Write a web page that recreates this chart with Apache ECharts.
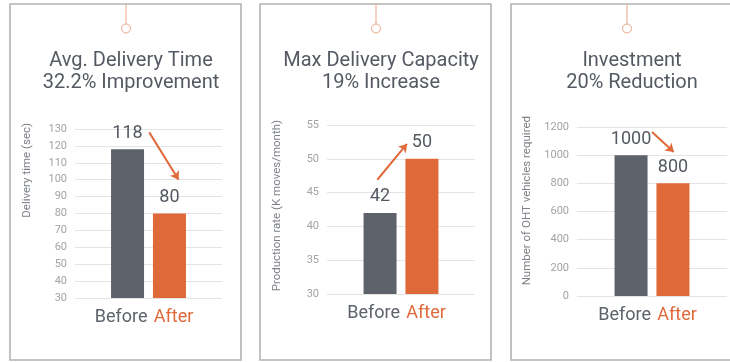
<!DOCTYPE html>
<html>
<head>
<meta charset="utf-8">
<script src="https://cdn.jsdelivr.net/npm/echarts@6/dist/echarts.min.js"></script>
<style>
  html, body { margin: 0; padding: 0; background: #fff; }
  #chart { width: 730px; height: 362px; }
</style>
</head>
<body>
<div id="chart"></div>
<script>
// Three before/after comparison panels
const panelTitles = [
  'Avg. Delivery Time\n32.2% Improvement',
  'Max Delivery Capacity\n19% Increase',
  'Investment\n20% Reduction'
];
const axisNames = ['Delivery time (sec)', 'Production rate (K moves/month)', 'Number of OHT vehicles required'];
const categories = ['Before', 'After'];
const beforeValues = [118, 42, 1000];
const afterValues = [80, 50, 800];
const yMin = [30, 30, 0];
const yMax = [130, 55, 1200];
const yStep = [10, 5, 200];
// Trend arrows: [x, y] pairs, x on a -1..1 helper scale across each plot, y in axis units
const arrowStarts = [[0.01, 128], [-0.32, 46.9], [0.0, 1165]];
const arrowEnds = [[0.41, 100], [0.08, 52.2], [0.29, 1023]];

const GRAY = '#5d626b';
const ORANGE = '#e0693a';
const TEXT = '#555a62';
const FONT = 'Roboto, "Liberation Sans", sans-serif';

const panels = [
  { x: 10, grid: { left: 75, top: 129, width: 147, height: 169 }, nameX: 27, nameTop: 123 },
  { x: 260, grid: { left: 327, top: 125, width: 148, height: 169 }, nameX: 277, nameTop: 120 },
  { x: 511, grid: { left: 577, top: 127, width: 150, height: 169 }, nameX: 527, nameTop: 116 }
];
const panelW = 231;

const grids = [], xAxes = [], yAxes = [], series = [], titles = [], graphics = [];

panels.forEach((p, i) => {
  const cx = p.x + panelW / 2 + 0.5;
  grids.push(Object.assign({ containLabel: false }, p.grid));

  // category axis holding the before/after pair
  xAxes.push({
    type: 'category', gridIndex: i, data: [categories.join(' ')],
    axisLine: { show: false }, axisTick: { show: false },
    axisLabel: {
      margin: 10,
      formatter: () => '{b|' + categories[0] + '} {a|' + categories[1] + '}',
      rich: {
        b: { fontSize: 18, color: GRAY, fontFamily: FONT, padding: [0, 3, 0, 0] },
        a: { fontSize: 18, color: ORANGE, fontFamily: FONT, padding: [0, 9, 0, 0] }
      }
    }
  });
  yAxes.push({
    type: 'value', gridIndex: i, min: yMin[i], max: yMax[i], interval: yStep[i],
    axisLine: { show: false }, axisTick: { show: false },
    axisLabel: { color: '#a3a3a3', fontSize: 11, fontFamily: FONT, margin: 8, formatter: v => String(v) },
    splitLine: { lineStyle: { color: '#e4e4e4', width: 1 } }
  });

  const barLabel = { show: true, position: 'top', distance: 7, fontSize: 18, color: TEXT, fontFamily: FONT };
  series.push({
    name: categories[0], type: 'bar', xAxisIndex: i, yAxisIndex: i,
    barWidth: 33, barGap: '27%', data: [beforeValues[i]],
    itemStyle: { color: GRAY }, label: barLabel, silent: true
  });
  series.push({
    name: categories[1], type: 'bar', xAxisIndex: i, yAxisIndex: i,
    barWidth: 33, barGap: '27%', data: [afterValues[i]],
    itemStyle: { color: ORANGE }, label: barLabel, silent: true
  });

  titles.push({
    text: panelTitles[i], left: cx, top: 45, textAlign: 'center',
    textStyle: { fontSize: 20, fontWeight: 'normal', color: TEXT, lineHeight: 22, fontFamily: FONT }
  });

  // panel frame, hanging string and ring
  graphics.push({
    type: 'rect', shape: { x: p.x, y: 4, width: panelW, height: 356 },
    style: { fill: null, stroke: '#b3b3b3', lineWidth: 1.6 }, silent: true
  });
  graphics.push({
    type: 'line', shape: { x1: cx, y1: 4, x2: cx, y2: 24 },
    style: { stroke: '#eba488', lineWidth: 1 }, silent: true
  });
  graphics.push({
    type: 'circle', shape: { cx: cx, cy: 28.5, r: 4.5 },
    style: { fill: '#fff', stroke: '#eba488', lineWidth: 1 }, silent: true
  });
  graphics.push({
    type: 'text', x: p.nameX, y: p.nameTop, rotation: Math.PI / 2,
    style: { text: axisNames[i], fontSize: 11.5, fill: '#7d8086', fontFamily: FONT, align: 'right', verticalAlign: 'middle' },
    silent: true
  });
});

// helper x scales for the trend arrows
panels.forEach((p, i) => {
  xAxes.push({ type: 'value', gridIndex: i, min: -1, max: 1, show: false });
  series.push({
    type: 'lines', coordinateSystem: 'cartesian2d', xAxisIndex: 3 + i, yAxisIndex: i,
    symbol: ['none', 'arrow'], symbolSize: 8, silent: true,
    lineStyle: { color: ORANGE, width: 2, opacity: 1 },
    data: [{ coords: [arrowStarts[i], arrowEnds[i]] }]
  });
});

const chart = echarts.init(document.getElementById('chart'), null, { renderer: 'canvas' });
chart.setOption({
  animation: false,
  backgroundColor: '#fff',
  title: titles,
  grid: grids,
  xAxis: xAxes,
  yAxis: yAxes,
  series: series,
  graphic: graphics
});
</script>
</body>
</html>
